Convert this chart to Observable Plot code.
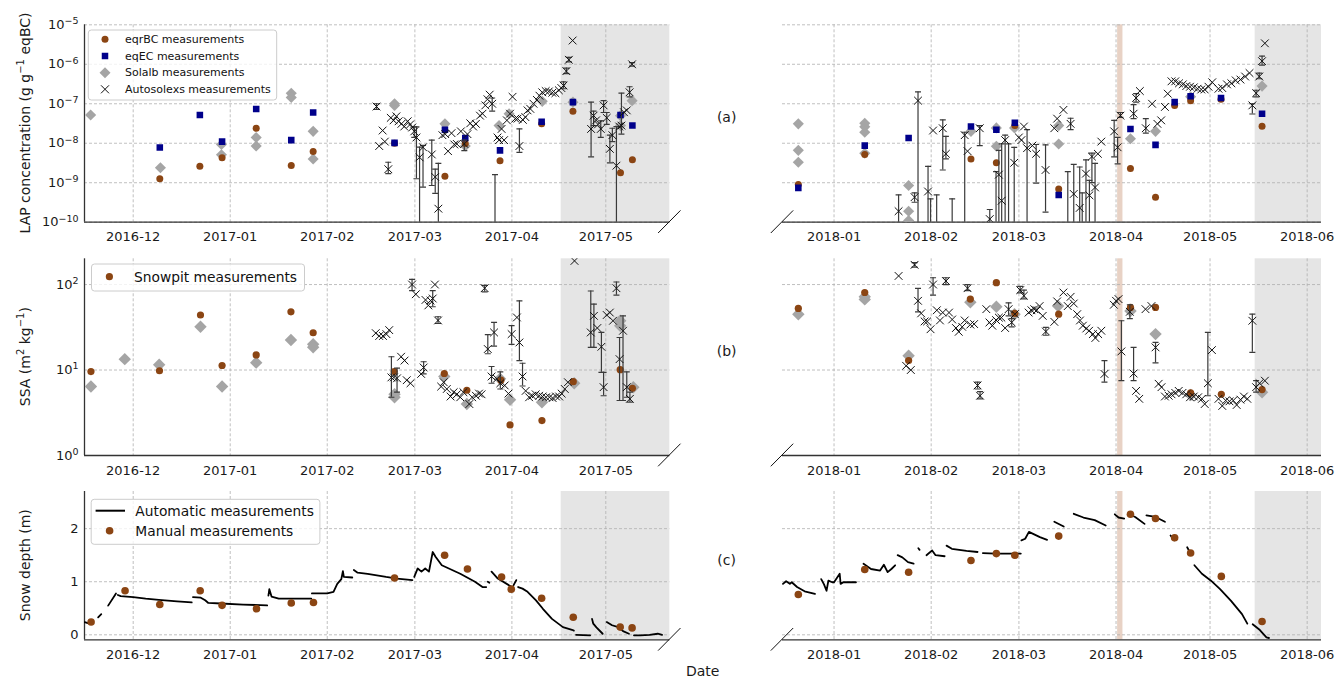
<!DOCTYPE html>
<html><head><meta charset="utf-8">
<script src="https://cdn.jsdelivr.net/npm/d3@7"></script>
<script src="https://cdn.jsdelivr.net/npm/@observablehq/plot@0.6"></script>
<style>
body{margin:0;background:#fff;font-family:"DejaVu Sans",sans-serif;}
#wrap{position:relative;width:1336px;height:680px;overflow:hidden;background:#fff;}
#wrap > svg{position:absolute;}
</style></head><body><div id="wrap"></div>
<script>
// ---------- axes / domains ----------
const xDomain1617 = ["2016-11-15.44", "2017-05-21.45"];
const xDomain1718 = ["2017-12-15.55", "2018-06-05.57"];
const monthTicks1617 = ["2016-12-01", "2017-01-01", "2017-02-01", "2017-03-01", "2017-04-01", "2017-05-01"];
const monthTicks1718 = ["2018-01-01", "2018-02-01", "2018-03-01", "2018-04-01", "2018-05-01", "2018-06-01"];
const shade1617 = ["2017-04-16.75", "2017-05-21.45"];
const shade1718 = ["2018-05-15.4", "2018-06-05.57"];
const tanBand1718 = ["2018-04-01.5", "2018-04-03.2"];
const lapDomain = [1e-10, 1e-5];
const lapTicks = [1e-10, 1e-9, 1e-8, 1e-7, 1e-6, 1e-5];
const ssaDomain = [1, 200];
const ssaTicks = [1, 10, 100];
const depthDomain = [-0.094, 2.70];
const depthTicks = [0, 1, 2];

// ---------- LAP concentration ----------
const eqrBC1617 = [["2016-12-09.5",1.26e-9],["2016-12-22.3",2.6e-9],["2016-12-29.4",4.3e-9],["2017-01-09.3",2.4e-8],["2017-01-20.5",2.75e-9],["2017-01-27.5",6.2e-9],["2017-02-22.5",1.0e-8],["2017-03-10.6",1.45e-9],["2017-03-17.1",9.8e-9],["2017-03-28.2",3.6e-9],["2017-04-10.5",3.1e-8],["2017-04-20.5",6.5e-8],["2017-05-05.7",1.8e-9],["2017-05-09.5",3.8e-9]];
const eqEC1617 = [["2016-12-09.5",7.8e-9],["2016-12-22.3",5.2e-8],["2016-12-29.4",1.1e-8],["2017-01-09.3",7.4e-8],["2017-01-20.5",1.2e-8],["2017-01-27.5",6.0e-8],["2017-02-22.5",1.02e-8],["2017-03-10.6",2.2e-8],["2017-03-17.1",1.35e-8],["2017-03-28.2",6.6e-9],["2017-04-10.5",3.5e-8],["2017-04-20.5",1.1e-7],["2017-05-05.7",5.2e-8],["2017-05-09.5",2.8e-8]];
const solalb1617 = [["2016-11-17.4",5.2e-8],["2016-12-09.7",2.4e-9],["2016-12-29.2",9.3e-9],["2016-12-29.2",5.1e-9],["2017-01-09.3",1.4e-8],["2017-01-09.3",8.5e-9],["2017-01-20.5",1.85e-7],["2017-01-20.5",1.45e-7],["2017-01-27.5",2.0e-8],["2017-01-27.5",4.0e-9],["2017-02-22.5",1.0e-7],["2017-02-22.5",9.0e-8],["2017-03-10.6",3.1e-8],["2017-03-17.1",8.5e-9],["2017-03-27.9",2.8e-8],["2017-03-31.1",5.6e-8],["2017-04-10.7",1.15e-7],["2017-04-20.5",1.1e-7],["2017-05-05.7",5.0e-8],["2017-05-05.7",2.8e-8],["2017-05-09.4",1.2e-7]];
const autosolexs1617 = [["2017-02-16.75",8.5e-8,7.2e-8,1.0e-7],["2017-02-17.6",8.5e-9],["2017-02-18.7",2.1e-8],["2017-02-19.4",1.1e-8],["2017-02-20.5",2.2e-9,1.7e-9,3.3e-9],["2017-02-21.3",4.4e-8],["2017-02-22.2",3.8e-8],["2017-02-23.1",4.8e-8],["2017-02-23.8",3.6e-8],["2017-02-24.7",3.1e-8],["2017-02-25.6",2.65e-8],["2017-02-26.7",3.6e-8],["2017-02-27.5",3.0e-8],["2017-02-28.15",2.5e-8],["2017-02-28.8",2.0e-8,1.4e-8,2.6e-8],["2017-03-01.5",1.4e-8,1.26e-9,2.6e-8],["2017-03-02.5",4.4e-9,1e-11,8e-9],["2017-03-03.6",7.9e-9,7.7e-10,8.8e-9],["2017-03-06.4",5.2e-9,8.5e-10,1.2e-8],["2017-03-07.5",1.4e-9,5.4e-10,2.2e-9],["2017-03-08.5",2.2e-10,1e-11,3.1e-9],["2017-03-09.8",1.6e-8],["2017-03-10.7",1.7e-8],["2017-03-11.6",6.3e-9],["2017-03-12.7",1.8e-8],["2017-03-13.6",9.3e-9],["2017-03-14.4",9.6e-9],["2017-03-15.7",2.0e-8],["2017-03-16.8",9.6e-9,6.5e-9,1.2e-8],["2017-03-17.8",1.7e-8],["2017-03-18.7",3.2e-8],["2017-03-19.6",2.65e-8],["2017-03-20.5",3.1e-8],["2017-03-21.8",5.0e-8],["2017-03-22.6",5.6e-8],["2017-03-23.5",9.1e-8],["2017-03-24.2",1.3e-7],["2017-03-24.9",1.7e-7],["2017-03-25.7",1.0e-7,6.5e-8,1.4e-7],["2017-03-26.6",null,1e-11,1.6e-9],["2017-03-27.4",1.4e-8],["2017-03-27.9",1.2e-8],["2017-03-28.7",2.3e-8],["2017-03-29.5",1.2e-8],["2017-03-30.4",3.8e-8],["2017-03-31.4",5.6e-8],["2017-04-01.2",1.5e-7],["2017-04-02.1",4.2e-8],["2017-04-02.8",4.2e-8],["2017-04-03.4",8.5e-9,5.9e-9,2.3e-8],["2017-04-04.5",3.9e-8],["2017-04-05.3",4.6e-8],["2017-04-06.0",6.8e-8],["2017-04-06.9",7.4e-8],["2017-04-07.9",1.0e-7],["2017-04-09.0",1.25e-7],["2017-04-09.8",1.6e-7],["2017-04-10.7",1.95e-7],["2017-04-11.8",2.1e-7],["2017-04-12.8",2.05e-7],["2017-04-13.9",1.9e-7],["2017-04-14.9",1.85e-7],["2017-04-16.0",2.2e-7],["2017-04-16.8",2.5e-7],["2017-04-17.5",2.9e-7,2.4e-7,3.6e-7],["2017-04-18.4",6.7e-7,5.8e-7,8e-7],["2017-04-19.2",1.3e-6,1.15e-6,1.5e-6],["2017-04-20.4",4.0e-6],["2017-04-26.3",2.3e-8,4.5e-9,1.1e-7],["2017-04-27.1",5.0e-8,2.8e-8,6.5e-8],["2017-04-27.9",3.8e-8],["2017-04-28.5",3.0e-8],["2017-04-29.4",2.3e-8,1.4e-8,3.7e-8],["2017-04-30.3",9.1e-8,6e-8,1.2e-7],["2017-05-01.3",4.4e-8,3.0e-8,6.0e-8],["2017-05-02.3",7.2e-9,3.2e-9,1.6e-8],["2017-05-03.1",1.6e-8,1.1e-8,2.4e-8],["2017-05-04.4",2.7e-9,1e-11,2.65e-8],["2017-05-05.3",2.65e-8],["2017-05-06.0",2.8e-8,1.7e-8,1.85e-7],["2017-05-06.8",6.1e-8],["2017-05-07.7",6.8e-8],["2017-05-08.6",1.95e-7,1.5e-7,2.7e-7],["2017-05-09.4",1.0e-6,9e-7,1.1e-6]];

const eqrBC1718 = [["2017-12-20.6",9e-10],["2018-01-10.8",5.2e-9],["2018-02-13.7",4.0e-9],["2018-02-21.8",3.2e-9],["2018-02-27.7",2.8e-8],["2018-03-13.7",6.9e-10],["2018-04-05.6",2.3e-9],["2018-04-13.6",4.3e-10],["2018-04-19.7",9e-8],["2018-04-24.8",1.2e-7],["2018-05-04.5",1.3e-7],["2018-05-17.6",2.7e-8]];
const eqEC1718 = [["2017-12-20.6",7.4e-10],["2018-01-10.8",8.7e-9],["2018-01-24.8",1.35e-8],["2018-02-13.7",2.65e-8],["2018-02-21.8",2.2e-8],["2018-02-27.7",3.3e-8],["2018-03-13.7",4.9e-10],["2018-04-05.6",2.3e-8],["2018-04-13.6",9.1e-9],["2018-04-19.7",1.1e-7],["2018-04-24.8",1.55e-7],["2018-05-04.5",1.4e-7],["2018-05-17.6",5.6e-8]];
const solalb1718 = [["2017-12-20.6",3.1e-8],["2017-12-20.6",6.6e-9],["2017-12-20.6",3.3e-9],["2018-01-10.8",3.2e-8],["2018-01-10.8",2.6e-8],["2018-01-10.8",1.9e-8],["2018-01-10.8",5.6e-9],["2018-01-24.8",8.5e-10],["2018-01-24.8",1.9e-10],["2018-01-24.8",1.1e-10],["2018-02-13.7",2.0e-8],["2018-02-21.8",2.45e-8],["2018-02-21.8",8.4e-9],["2018-02-27.6",2.45e-8],["2018-03-13.7",2.8e-8],["2018-03-13.7",9.6e-9],["2018-04-05.6",1.3e-8],["2018-04-13.6",2.0e-8],["2018-04-24.8",1.5e-7],["2018-05-17.6",2.8e-7]];
const autosolexs1718 = [["2018-01-21.6",1.9e-10,1e-11,4.9e-10],["2018-01-26.7",4.3e-10,3.2e-10,5.5e-10],["2018-01-27.8",1.2e-7,1e-11,2.0e-7],["2018-01-31.0",6e-10,1e-11,2.6e-9],["2018-01-31.8",null,1e-11,3.9e-10],["2018-02-01.6",2.1e-8],["2018-02-02.75",null,1e-11,4.9e-10],["2018-02-04.7",2.4e-8,2.1e-9,3.9e-8],["2018-02-05.7",5.4e-9,4.0e-9,1.5e-8],["2018-02-07.7",null,1e-11,3.9e-10],["2018-02-11.7",1.6e-8,1e-11,1.9e-8],["2018-02-12.6",6.3e-9],["2018-02-16.5",2.4e-8,8.7e-9,2.8e-8],["2018-02-19.7",1.2e-10,1e-11,2.1e-10],["2018-02-21.7",null,1e-11,1.9e-9],["2018-02-22.6",1.6e-9,1e-11,6.6e-9],["2018-02-23.5",3.5e-10,1e-11,9.6e-9],["2018-02-24.6",1.2e-8,1e-11,1.6e-8],["2018-02-25.7",null,1e-11,9.6e-9],["2018-02-27.5",3.2e-9,1e-11,7.9e-9],["2018-03-01.0",1.4e-8],["2018-03-01.8",1.2e-8],["2018-03-02.6",2.65e-8],["2018-03-03.6",7.5e-9,1e-11,2.2e-8],["2018-03-05.3",8.7e-9],["2018-03-06.5",5.4e-9,9.8e-10,9.3e-9],["2018-03-09.5",2.1e-9,1.8e-10,9.1e-9],["2018-03-12.3",2.4e-8],["2018-03-13.2",4.2e-8],["2018-03-15.2",7e-8],["2018-03-16.6",null,1e-11,1.9e-9],["2018-03-17.5",3.1e-8,2.2e-8,4.3e-8],["2018-03-18.5",5.2e-10,1e-11,2.9e-9],["2018-03-20.4",2.3e-10,1e-11,2.5e-9],["2018-03-21.2",null,1e-11,5.5e-10],["2018-03-22.4",1.7e-9,1e-11,3.8e-9],["2018-03-23.5",4.8e-10,1e-11,1.15e-9],["2018-03-24.3",4.6e-9,1.0e-9,5.6e-9],["2018-03-25.3",7.6e-10,1e-11,3.1e-9],["2018-03-26.2",5.4e-9],["2018-03-27.3",1.1e-8],["2018-03-31.4",2.0e-8,4.5e-9,3.8e-8],["2018-04-01.5",7.9e-9,3.0e-9,1.4e-8],["2018-04-02.4",5e-8,4.5e-8,6e-8],["2018-04-06.6",5.6e-8,4.2e-8,9.5e-8],["2018-04-07.4",1.4e-7,1.1e-7,1.8e-7],["2018-04-08.6",2.1e-7],["2018-04-10.5",2.4e-8,1.8e-8,4.2e-8],["2018-04-12.5",1e-7],["2018-04-14.2",3.1e-8],["2018-04-15.4",3.8e-8],["2018-04-16.6",8.3e-8],["2018-04-17.5",1.8e-7],["2018-04-18.7",3.7e-7],["2018-04-19.9",3.7e-7],["2018-04-21.1",3.3e-7],["2018-04-22.3",3.1e-7],["2018-04-23.4",2.8e-7],["2018-04-24.6",2.7e-7],["2018-04-25.8",2.6e-7],["2018-04-27.0",2.4e-7],["2018-04-28.2",2.3e-7],["2018-04-29.3",2.3e-7],["2018-04-30.5",2.7e-7],["2018-05-01.7",3.5e-7],["2018-05-03.7",2.4e-7],["2018-05-04.9",2.5e-7],["2018-05-06.4",3.1e-7],["2018-05-07.8",3.3e-7],["2018-05-09.2",3.9e-7],["2018-05-10.7",4.1e-7],["2018-05-12.2",4.9e-7],["2018-05-13.6",6e-7],["2018-05-14.5",9.1e-8,5.5e-8,1.0e-7],["2018-05-15.7",1.85e-7,1.5e-7,2.2e-7],["2018-05-16.7",4.9e-7,4.3e-7,6e-7],["2018-05-17.6",1.2e-6,9.5e-7,1.6e-6],["2018-05-18.5",3.4e-6]];

// ---------- SSA ----------
const snowpitSSA1617 = [["2016-11-17.5",9.6],["2016-12-09.4",9.8],["2016-12-22.5",44],["2016-12-29.4",11.3],["2017-01-09.3",15],["2017-01-20.4",48],["2017-01-27.5",27.3],["2017-02-22.4",9.6],["2017-03-10.4",9.1],["2017-03-17.6",5.8],["2017-03-28.5",7.6],["2017-03-31.4",2.28],["2017-04-10.6",2.56],["2017-04-20.6",7.3],["2017-05-05.6",10.1],["2017-05-09.5",6.1]];
const solalbSSA1617 = [["2016-11-17.5",6.4],["2016-11-28.3",13.4],["2016-12-09.3",11.5],["2016-12-22.5",32],["2016-12-29.4",6.4],["2017-01-09.3",12.2],["2017-01-20.4",22.4],["2017-01-27.5",20],["2017-01-27.5",18.5],["2017-02-22.5",4.8],["2017-02-22.5",5.2],["2017-03-10.4",8.4],["2017-03-17.6",4.0],["2017-03-28.2",7.9],["2017-03-31.4",4.5],["2017-04-10.6",4.2],["2017-04-20.9",7.0],["2017-05-05.6",37.7],["2017-05-05.6",33],["2017-05-09.8",6.3]];
const autosolexsSSA1617 = [["2017-02-16.5",27],["2017-02-17.6",25],["2017-02-18.8",25],["2017-02-19.9",26.3],["2017-02-20.8",29.3],["2017-02-21.5",8.2,4.8,14.3],["2017-02-22.3",8.2],["2017-02-23.3",8.0,5.5,10.5],["2017-02-24.6",14.3],["2017-02-25.7",12.9],["2017-02-26.4",7.6],["2017-02-27.6",7.0],["2017-02-28.1",100,85,115],["2017-03-01.3",77],["2017-03-03.0",9.0],["2017-03-03.8",10.7,9,12.5],["2017-03-04.4",66],["2017-03-05.3",57],["2017-03-06.0",65],["2017-03-06.7",68.6,55,85],["2017-03-07.4",100],["2017-03-08.4",38,35,42],["2017-03-09.4",6.4],["2017-03-10.2",7.2],["2017-03-11.2",6.0],["2017-03-12.4",4.9],["2017-03-13.4",5.5],["2017-03-14.4",5.2],["2017-03-15.5",4.8],["2017-03-16.5",5.5],["2017-03-18.4",4.0],["2017-03-19.3",4.8],["2017-03-20.5",5.0],["2017-03-21.5",5.3],["2017-03-22.3",5.2],["2017-03-23.3",90.6,82,98],["2017-03-24.3",17.6,15.5,26],["2017-03-25.5",8.4,7,11],["2017-03-26.3",27.5,19,36],["2017-03-27.2",7.9],["2017-03-28.3",7.0,6,9.5],["2017-03-29.7",6.6],["2017-03-30.9",5.3],["2017-03-31.9",26.3,20,33],["2017-04-02.6",41.2],["2017-04-03.4",21,12.9,64.5],["2017-04-04.4",8.4,6.5,12],["2017-04-05.4",5.7],["2017-04-06.5",4.8],["2017-04-07.5",5.0],["2017-04-08.6",5.2],["2017-04-09.7",5.0],["2017-04-10.8",4.9],["2017-04-11.9",4.8],["2017-04-13.0",4.8],["2017-04-14.0",4.7],["2017-04-15.1",4.9],["2017-04-16.1",4.9],["2017-04-16.9",5.3],["2017-04-17.9",6.0],["2017-04-18.9",7.2],["2017-04-21.0",189],["2017-04-26.2",27.5,18.4,84],["2017-04-27.2",43,18.4,59],["2017-04-28.3",31],["2017-04-29.6",18.7,9.4,27.5],["2017-04-30.3",6.3,5.0,9.4],["2017-05-01.3",44],["2017-05-02.3",47],["2017-05-03.3",37.7],["2017-05-04.4",90.6,75,107],["2017-05-05.4",13.4,4.4,24],["2017-05-06.5",28.8,4.4,43],["2017-05-07.7",6.3,4.8,9.5],["2017-05-08.7",4.6,4.2,5.5]];

const snowpitSSA1718 = [["2017-12-20.6",52.5],["2018-01-10.8",80.7],["2018-01-24.8",12.9],["2018-02-13.5",67.5],["2018-02-21.8",105],["2018-02-27.7",46],["2018-03-13.7",45],["2018-04-05.6",54],["2018-04-13.6",54],["2018-04-24.8",5.4],["2018-05-04.6",5.2],["2018-05-17.6",5.9]];
const solalbSSA1718 = [["2017-12-20.6",45],["2018-01-10.8",67],["2018-01-10.8",72],["2018-01-24.8",14.7],["2018-02-13.5",62],["2018-02-21.8",55],["2018-02-27.6",45],["2018-03-13.5",56],["2018-04-05.6",49],["2018-04-13.6",26.3],["2018-04-24.8",5.1],["2018-05-17.6",5.5]];
const autosolexsSSA1718 = [["2018-01-21.6",126],["2018-01-24.0",11.2],["2018-01-25.5",10],["2018-01-26.7",170,160,180],["2018-01-27.8",64.5,48,90],["2018-01-28.8",46],["2018-01-29.9",37],["2018-01-30.7",37],["2018-01-31.8",30],["2018-02-01.6",100,75,120],["2018-02-02.8",50],["2018-02-03.8",38],["2018-02-04.7",47],["2018-02-05.7",110,100,120],["2018-02-06.7",47],["2018-02-07.7",39],["2018-02-08.9",31],["2018-02-09.8",28],["2018-02-10.9",32],["2018-02-11.7",38],["2018-02-12.6",90.6,85,100],["2018-02-13.5",34],["2018-02-14.7",34.5],["2018-02-15.8",6.6,6,7.2],["2018-02-16.6",5.0,4.6,5.6],["2018-02-18.6",51.5],["2018-02-19.6",36],["2018-02-20.5",33],["2018-02-21.7",38.4],["2018-02-22.6",41],["2018-02-23.4",41],["2018-02-24.6",31],["2018-02-25.7",51.5,43,61],["2018-02-26.7",36,32,40],["2018-02-27.7",45],["2018-03-01.4",86,80,95],["2018-03-02.6",74,68,86],["2018-03-04.1",47],["2018-03-05.0",50],["2018-03-05.9",51.5],["2018-03-06.7",50],["2018-03-07.6",56],["2018-03-08.6",43],["2018-03-09.6",28.2,25.5,31.5],["2018-03-12.3",36.6],["2018-03-13.2",63.5],["2018-03-15.2",80.7],["2018-03-16.6",56],["2018-03-17.5",71.8],["2018-03-18.5",60],["2018-03-19.6",45],["2018-03-20.5",38],["2018-03-21.4",33],["2018-03-22.5",30.6],["2018-03-23.4",28.8],["2018-03-24.6",26.3],["2018-03-25.4",23.7],["2018-03-26.3",26.3],["2018-03-27.3",28.8],["2018-03-28.3",9.0,7.2,12.9],["2018-03-31.3",58],["2018-04-01.0",64.5],["2018-04-01.8",67.5],["2018-04-02.7",16.5,7.5,37.7],["2018-04-05.4",48,40,58],["2018-04-06.6",9.1,7.5,18.4],["2018-04-07.4",5.7],["2018-04-08.4",4.6],["2018-04-10.4",51.5],["2018-04-12.3",56],["2018-04-13.6",18.4,12.1,21],["2018-04-14.6",6.9],["2018-04-15.5",6.3],["2018-04-16.6",4.9],["2018-04-17.8",5.0],["2018-04-18.7",5.2],["2018-04-19.9",5.4],["2018-04-21.0",5.7],["2018-04-22.2",5.4],["2018-04-23.4",5.2],["2018-04-24.6",4.8],["2018-04-25.8",4.9],["2018-04-27.2",4.8],["2018-04-28.4",4.6],["2018-04-29.3",4.0],["2018-04-30.3",7.0,5.0,27.5],["2018-05-01.6",17.1],["2018-05-03.7",4.6],["2018-05-04.9",3.8],["2018-05-06.0",4.4],["2018-05-07.2",4.3],["2018-05-08.4",4.4],["2018-05-09.5",3.9],["2018-05-10.7",4.5],["2018-05-11.8",4.9],["2018-05-12.9",4.6],["2018-05-14.5",37.7,16.1,45],["2018-05-15.7",6.3,5.5,7.5],["2018-05-16.8",7.0],["2018-05-18.5",7.5]];

// ---------- Snow depth ----------
const depthAuto1617 = [
 [["2016-11-15.5",0.24],["2016-11-16.5",0.22],["2016-11-18",0.21]],
 [["2016-11-19.8",0.33],["2016-11-20.8",0.39]],
 [["2016-11-23",0.55],["2016-11-25.5",0.78]],
 [["2016-11-26.1",0.75],["2016-11-27",0.73],["2016-12-01",0.71],["2016-12-05",0.68],["2016-12-09.2",0.66],["2016-12-15",0.63],["2016-12-19.7",0.61]],
 [["2016-12-20.1",0.71],["2016-12-22.6",0.70],["2016-12-24",0.65],["2016-12-25",0.60],["2016-12-29",0.59],["2017-01-05.1",0.57],["2017-01-12.8",0.555]],
 [["2017-01-13.2",0.74],["2017-01-13.5",0.86],["2017-01-14.2",0.72],["2017-01-16.5",0.68],["2017-01-21.2",0.68],["2017-01-26.9",0.68]],
 [["2017-01-27.1",0.78],["2017-02-01",0.78],["2017-02-03",0.81],["2017-02-04.2",0.96],["2017-02-05.5",1.05],["2017-02-06",1.2],["2017-02-06.3",1.09],["2017-02-09",1.08]],
 [["2017-02-09.5",1.22],["2017-02-10.7",1.17],["2017-02-13.9",1.15],["2017-02-19.8",1.09],["2017-02-23.3",1.06],["2017-02-28.2",1.03]],
 [["2017-02-28.8",1.09],["2017-03-01.9",1.25],["2017-03-03.1",1.19],["2017-03-04.3",1.25],["2017-03-05.5",1.19],["2017-03-06.7",1.56],["2017-03-07.6",1.47],["2017-03-09.6",1.31],["2017-03-15.5",1.15],["2017-03-20.2",1.0],["2017-03-22.6",0.90],["2017-03-23.8",0.90]],
 [["2017-03-24.3",1.0],["2017-03-24.8",0.98]],
 [["2017-03-25.5",1.19],["2017-03-27.5",1.06],["2017-04-01",0.90],["2017-04-01.3",0.87]],
 [["2017-04-01.5",0.93],["2017-04-02.4",1.03]],
 [["2017-04-03",0.90],["2017-04-04.4",0.87],["2017-04-06",0.81],["2017-04-08.7",0.65],["2017-04-10.9",0.49],["2017-04-13.8",0.30],["2017-04-17.3",0.145],["2017-04-20.2",0.095],["2017-04-20.8",0.08]],
 [["2017-04-21.5",0.0],["2017-04-26",-0.01]],
 [["2017-04-26.6",0.30],["2017-04-27",0.21],["2017-04-28",0.14],["2017-04-30",0.02]],
 [["2017-05-01.3",0.24],["2017-05-03",0.18],["2017-05-05",0.145],["2017-05-06.5",0.07],["2017-05-08.4",0.02]],
 [["2017-05-10",-0.01],["2017-05-12",-0.01],["2017-05-15",0.0],["2017-05-17.6",0.02],["2017-05-19",0.0]]
];
const depthManual1617 = [["2016-11-17.55",0.24],["2016-11-28.4",0.83],["2016-12-09.5",0.57],["2016-12-22.4",0.83],["2016-12-29.4",0.555],["2017-01-09.4",0.49],["2017-01-20.5",0.60],["2017-01-27.6",0.61],["2017-02-22.5",1.07],["2017-03-10.5",1.50],["2017-03-17.8",1.24],["2017-03-28.7",1.09],["2017-03-31.8",0.86],["2017-04-10.5",0.69],["2017-04-20.6",0.33],["2017-05-05.6",0.145],["2017-05-09.4",0.13]];
const depthAuto1718 = [
 [["2017-12-15.7",0.96],["2017-12-16.7",1.01],["2017-12-17.9",0.96],["2017-12-18.5",0.99],["2017-12-20.2",0.90],["2017-12-22.6",0.82],["2017-12-25.9",0.77]],
 [["2017-12-27.9",1.05],["2017-12-28.8",0.95],["2017-12-29.6",0.83],["2017-12-30.2",1.02],["2017-12-31.4",0.99],["2018-01-01",0.99],["2018-01-02.8",1.15],["2018-01-03.1",0.96],["2018-01-04",0.99],["2018-01-05.7",0.99],["2018-01-08",0.99]],
 [["2018-01-10.4",1.34],["2018-01-12.8",1.24],["2018-01-15.7",1.21],["2018-01-16.9",1.32],["2018-01-18.1",1.18],["2018-01-19.3",1.24],["2018-01-20.5",1.31]],
 [["2018-01-21.3",1.50],["2018-01-22.8",1.46],["2018-01-24.6",1.37],["2018-01-26.4",1.34]],
 [["2018-01-27.9",1.63],["2018-01-28.3",1.60]],
 [["2018-01-30.5",1.50],["2018-02-01.3",1.59],["2018-02-02.4",1.50],["2018-02-05.3",1.48]],
 [["2018-02-05.9",1.68],["2018-02-07.6",1.62],["2018-02-12.3",1.58],["2018-02-15.8",1.56]],
 [["2018-02-17.5",1.54],["2018-02-21.6",1.53],["2018-03-01.6",1.53]],
 [["2018-03-01.8",1.78],["2018-03-03",1.81],["2018-03-04.2",1.94],["2018-03-07.7",1.84],["2018-03-10",1.79]],
 [["2018-03-12.3",2.13],["2018-03-15.3",2.04]],
 [["2018-03-18.5",2.28],["2018-03-21.6",2.21],["2018-03-25.2",2.16],["2018-03-28.7",2.06]],
 [["2018-03-31.6",2.27],["2018-04-01.8",2.21],["2018-04-03.6",2.19]],
 [["2018-04-04.8",2.28],["2018-04-07.1",2.22],["2018-04-10.1",2.09]],
 [["2018-04-10.7",2.25],["2018-04-13.6",2.22],["2018-04-16.6",2.13]],
 [["2018-04-18.4",1.87],["2018-04-19.6",1.78]],
 [["2018-04-23.7",1.65],["2018-04-24.8",1.53]],
 [["2018-04-26",1.31],["2018-04-28.4",1.15],["2018-05-01.3",1.02],["2018-05-04.2",0.86],["2018-05-07.7",0.64],["2018-05-11.2",0.39],["2018-05-12.9",0.21]],
 [["2018-05-14.6",0.20],["2018-05-16.9",0.09],["2018-05-19",-0.05],["2018-05-19.8",-0.06]]
];
const depthManual1718 = [["2017-12-20.6",0.76],["2018-01-10.8",1.23],["2018-01-24.8",1.18],["2018-02-13.7",1.40],["2018-02-21.8",1.53],["2018-02-27.7",1.50],["2018-03-13.7",1.86],["2018-04-05.6",2.27],["2018-04-13.6",2.19],["2018-04-19.7",1.83],["2018-04-24.8",1.54],["2018-05-04.6",1.10],["2018-05-17.6",0.25]];

// ---------- helpers ----------
const NS = "http://www.w3.org/2000/svg";
const P = s => { const [y, m, d] = s.split("-"); return new Date(Date.UTC(+y, +m - 1, 1) + (parseFloat(d) - 1) * 864e5); };
const pts = arr => arr.map(([d, v]) => ({date: P(d), v}));
const sol = arr => arr.map(([d, v, lo, hi]) => ({date: P(d), v, lo: lo ?? null, hi: hi ?? null}));
const segs = arr => arr.flatMap((seg, i) => seg.map(([d, v]) => ({date: P(d), v, seg: i})));
const C = {brown: "#8B4513", navy: "#00008B", gray: "#a5a5a5", shade: "#e5e5e5", tan: "#e8d2c5", grid: "#b0b0b0", spine: "#333", err: "#3a3a3a"};
const capSymbol = {draw(ctx, size) { const w = Math.sqrt(size / Math.PI); ctx.moveTo(-w, 0); ctx.lineTo(w, 0); }};
const supFmt = d => "10^" + String(Math.round(Math.log10(d))).replace("-", "\u2212");

function solexMarks(data) {
  const e = data.filter(d => d.lo != null);
  const es = {stroke: C.err, strokeWidth: 1.2, fill: "none", clip: true};
  return [
    Plot.ruleX(e, {x: "date", y1: "lo", y2: "hi", stroke: C.err, strokeWidth: 1.2, clip: true}),
    Plot.dot(e, {x: "date", y: "lo", symbol: capSymbol, r: 3, ...es}),
    Plot.dot(e, {x: "date", y: "hi", symbol: capSymbol, r: 3, ...es}),
    Plot.dot(data, {x: "date", y: "v", symbol: "times", r: 3.6, stroke: "#111", strokeWidth: 1, clip: true})
  ];
}

const wrap = document.getElementById("wrap");
function panel(o) {
  const xDom = o.xDomain.map(P), xT = o.xTicks.map(P);
  const marks = [
    Plot.rect([o.shade.map(P)], {x1: d => d[0], x2: d => d[1], fill: C.shade}),
  ];
  if (o.tan) marks.push(Plot.rect([o.tan.map(P)], {x1: d => d[0], x2: d => d[1], fill: C.tan}));
  const g = {stroke: C.grid, strokeOpacity: 1, strokeWidth: 0.8, strokeDasharray: "3,2"};
  marks.push(Plot.gridX(xT, g), Plot.gridY(o.yTicks, g));
  marks.push(Plot.ruleY([o.yDomain[0]], {stroke: C.spine, strokeWidth: 1.3}));
  if (o.showY) marks.push(Plot.ruleX([xDom[0]], {stroke: C.spine, strokeWidth: 1.3}));
  marks.push(Plot.axisX(xT, {tickFormat: d3.utcFormat("%Y-%m"), tickSize: 0, tickPadding: 10, fontSize: 13, label: null}));
  if (o.showY) marks.push(Plot.axisY(o.yTicks, {tickFormat: o.yFmt, tickSize: 0, tickPadding: 6, fontSize: 13, label: null}));
  marks.push(...o.marks);
  const chart = Plot.plot({
    width: o.width, height: o.height,
    marginLeft: o.mL, marginRight: o.mR, marginTop: o.mT, marginBottom: o.mB,
    x: {type: "utc", domain: xDom, axis: null},
    y: {type: o.yType, domain: o.yDomain, axis: null},
    style: {fontFamily: "DejaVu Sans", fontSize: "13px", color: "#1a1a1a", background: "transparent", overflow: "visible"},
    marks
  });
  chart.style.left = o.left + "px";
  chart.style.top = o.top + "px";
  chart.querySelectorAll('g[aria-label="y-axis tick label"] text').forEach(t => {
    const s = t.textContent;
    if (s.includes("^")) {
      const [b, e] = s.split("^");
      t.textContent = b;
      const ts = document.createElementNS(NS, "tspan");
      ts.setAttribute("dy", "-0.5em"); ts.setAttribute("font-size", "9.5");
      ts.textContent = e; t.appendChild(ts);
    }
  });
  wrap.appendChild(chart);
  const xr = chart.scale("x").range, yr = chart.scale("y").range;
  return {x0: o.left + xr[0], x1: o.left + xr[1], yb: o.top + Math.max(...yr), yt: o.top + Math.min(...yr)};
}

const L = {left: 0, width: 700, mL: 84, mR: 30.7, xDomain: xDomain1617, xTicks: monthTicks1617, shade: shade1617, showY: true};
const R = {left: 760, width: 576, mL: 22, mR: 15, xDomain: xDomain1718, xTicks: monthTicks1718, shade: shade1718, tan: tanBand1718, showY: false};
const row1 = {top: 0, height: 250, mT: 24.3, mB: 28.3, yType: "log", yDomain: lapDomain, yTicks: lapTicks, yFmt: supFmt};
const row2 = {top: 240, height: 245, mT: 18.3, mB: 30, yType: "log", yDomain: ssaDomain, yTicks: ssaTicks, yFmt: supFmt};
const row3 = {top: 470, height: 210, mT: 21, mB: 40.7, yType: "linear", yDomain: depthDomain, yTicks: depthTicks, yFmt: d => String(d)};

const lapMarks = (sa, rb, ec, ax) => [
  Plot.dot(pts(sa), {x: "date", y: "v", symbol: "diamond2", r: 5, fill: C.gray, clip: true}),
  Plot.dot(pts(rb), {x: "date", y: "v", r: 3.5, fill: C.brown, clip: true}),
  Plot.dot(pts(ec), {x: "date", y: "v", symbol: "square", r: 3.7, fill: C.navy, clip: true}),
  ...solexMarks(sol(ax))
];
const ssaMarks = (sa, sp, ax) => [
  Plot.dot(pts(sa), {x: "date", y: "v", symbol: "diamond2", r: 5.6, fill: C.gray, clip: true}),
  Plot.dot(pts(sp), {x: "date", y: "v", r: 3.6, fill: C.brown, clip: true}),
  ...solexMarks(sol(ax))
];
const depthMarks = (au, ma) => [
  Plot.line(segs(au), {x: "date", y: "v", z: "seg", stroke: "#000", strokeWidth: 1.8, clip: true}),
  Plot.dot(pts(ma), {x: "date", y: "v", r: 3.8, fill: C.brown, clip: true})
];

const fA = panel({...L, ...row1, marks: lapMarks(solalb1617, eqrBC1617, eqEC1617, autosolexs1617)});
const gA = panel({...R, ...row1, marks: lapMarks(solalb1718, eqrBC1718, eqEC1718, autosolexs1718)});
const fB = panel({...L, ...row2, marks: ssaMarks(solalbSSA1617, snowpitSSA1617, autosolexsSSA1617)});
const gB = panel({...R, ...row2, marks: ssaMarks(solalbSSA1718, snowpitSSA1718, autosolexsSSA1718)});
const fC = panel({...L, ...row3, marks: depthMarks(depthAuto1617, depthManual1617)});
const gC = panel({...R, ...row3, marks: depthMarks(depthAuto1718, depthManual1718)});

// ---------- overlay: titles, legends, break marks, labels ----------
const ov = d3.select(wrap).append("svg").attr("width", 1336).attr("height", 680)
  .style("left", "0px").style("top", "0px").style("font-family", "DejaVu Sans").style("pointer-events", "none");

function yTitle(f, parts) {
  const cy = (f.yt + f.yb) / 2;
  const t = ov.append("text").attr("transform", `translate(20,${cy}) rotate(-90)`)
    .attr("text-anchor", "middle").attr("dominant-baseline", "central").attr("font-size", 14).attr("fill", "#1a1a1a");
  parts.forEach(([s, sup]) => {
    if (sup) { t.append("tspan").attr("dy", -5).attr("font-size", 10).text(s); }
    else { t.append("tspan").attr("dy", t.selectAll("tspan").size() ? 5 : 0).text(s); }
  });
}
yTitle(fA, [["LAP concentration (g g"], ["\u22121", true], [" eqBC)"]]);
yTitle(fB, [["SSA (m"], ["2", true], [" kg"], ["\u22121", true], [")"]]);
yTitle(fC, [["Snow depth (m)"]]);

[[fA.x1, fA.yb], [fB.x1, fB.yb], [fC.x1, fC.yb], [gA.x0, gA.yb], [gB.x0, gB.yb], [gC.x0, gC.yb]].forEach(([x, y]) => {
  ov.append("line").attr("x1", x - 11.2).attr("y1", y + 11.3).attr("x2", x + 11.2).attr("y2", y - 11.3)
    .attr("stroke", "#111").attr("stroke-width", 1);
});

const midX = (fA.x1 + gA.x0) / 2 + 1;
[["(a)", fA], ["(b)", fB], ["(c)", fC]].forEach(([s, f]) => {
  ov.append("text").attr("x", midX).attr("y", (f.yt + f.yb) / 2 + (s === "(c)" ? -5 : -6)).attr("text-anchor", "middle")
    .attr("dominant-baseline", "central").attr("font-size", 14).attr("fill", "#1a1a1a").text(s);
});
ov.append("text").attr("x", midX - 24).attr("y", 671).attr("text-anchor", "middle").attr("dominant-baseline", "central")
  .attr("font-size", 14).attr("fill", "#1a1a1a").text("Date");

function legendBox(x, y, w, h) {
  ov.append("rect").attr("x", x).attr("y", y).attr("width", w).attr("height", h).attr("rx", 3)
    .attr("fill", "#fff").attr("fill-opacity", 0.8).attr("stroke", "#cccccc").attr("stroke-width", 1);
}
function ltext(x, y, s, fs) {
  ov.append("text").attr("x", x).attr("y", y).attr("dominant-baseline", "central").attr("font-size", fs).attr("fill", "#111").text(s);
}
// legend (a)
legendBox(88.3, 30, 188.4, 70);
ov.append("circle").attr("cx", 105).attr("cy", 39.3).attr("r", 3.5).attr("fill", C.brown);
ov.append("rect").attr("x", 101.75).attr("y", 52.75).attr("width", 6.5).attr("height", 6.5).attr("fill", C.navy);
ov.append("path").attr("d", "M105,67.2L110.5,72.7L105,78.2L99.5,72.7Z").attr("fill", C.gray);
ov.append("path").attr("d", "M101,85.3L109,93.3M109,85.3L101,93.3").attr("stroke", "#111").attr("stroke-width", 1);
ltext(125, 39.3, "eqrBC measurements", 11);
ltext(125, 56, "eqEC measurements", 11);
ltext(125, 72.7, "Solalb measurements", 11);
ltext(125, 89.3, "Autosolexs measurements", 11);
// legend (b)
legendBox(91.5, 264, 213, 27);
ov.append("circle").attr("cx", 109.4).attr("cy", 276.7).attr("r", 3.6).attr("fill", C.brown);
ltext(134, 276.7, "Snowpit measurements", 13.8);
// legend (c)
legendBox(91.2, 499.3, 228.7, 45);
ov.append("line").attr("x1", 95.6).attr("x2", 125).attr("y1", 510.7).attr("y2", 510.7).attr("stroke", "#000").attr("stroke-width", 2);
ov.append("circle").attr("cx", 109.6).attr("cy", 530.7).attr("r", 3.8).attr("fill", C.brown);
ltext(135.3, 510.7, "Automatic measurements", 13.8);
ltext(135.3, 530.7, "Manual measurements", 13.8);
</script></body></html>
